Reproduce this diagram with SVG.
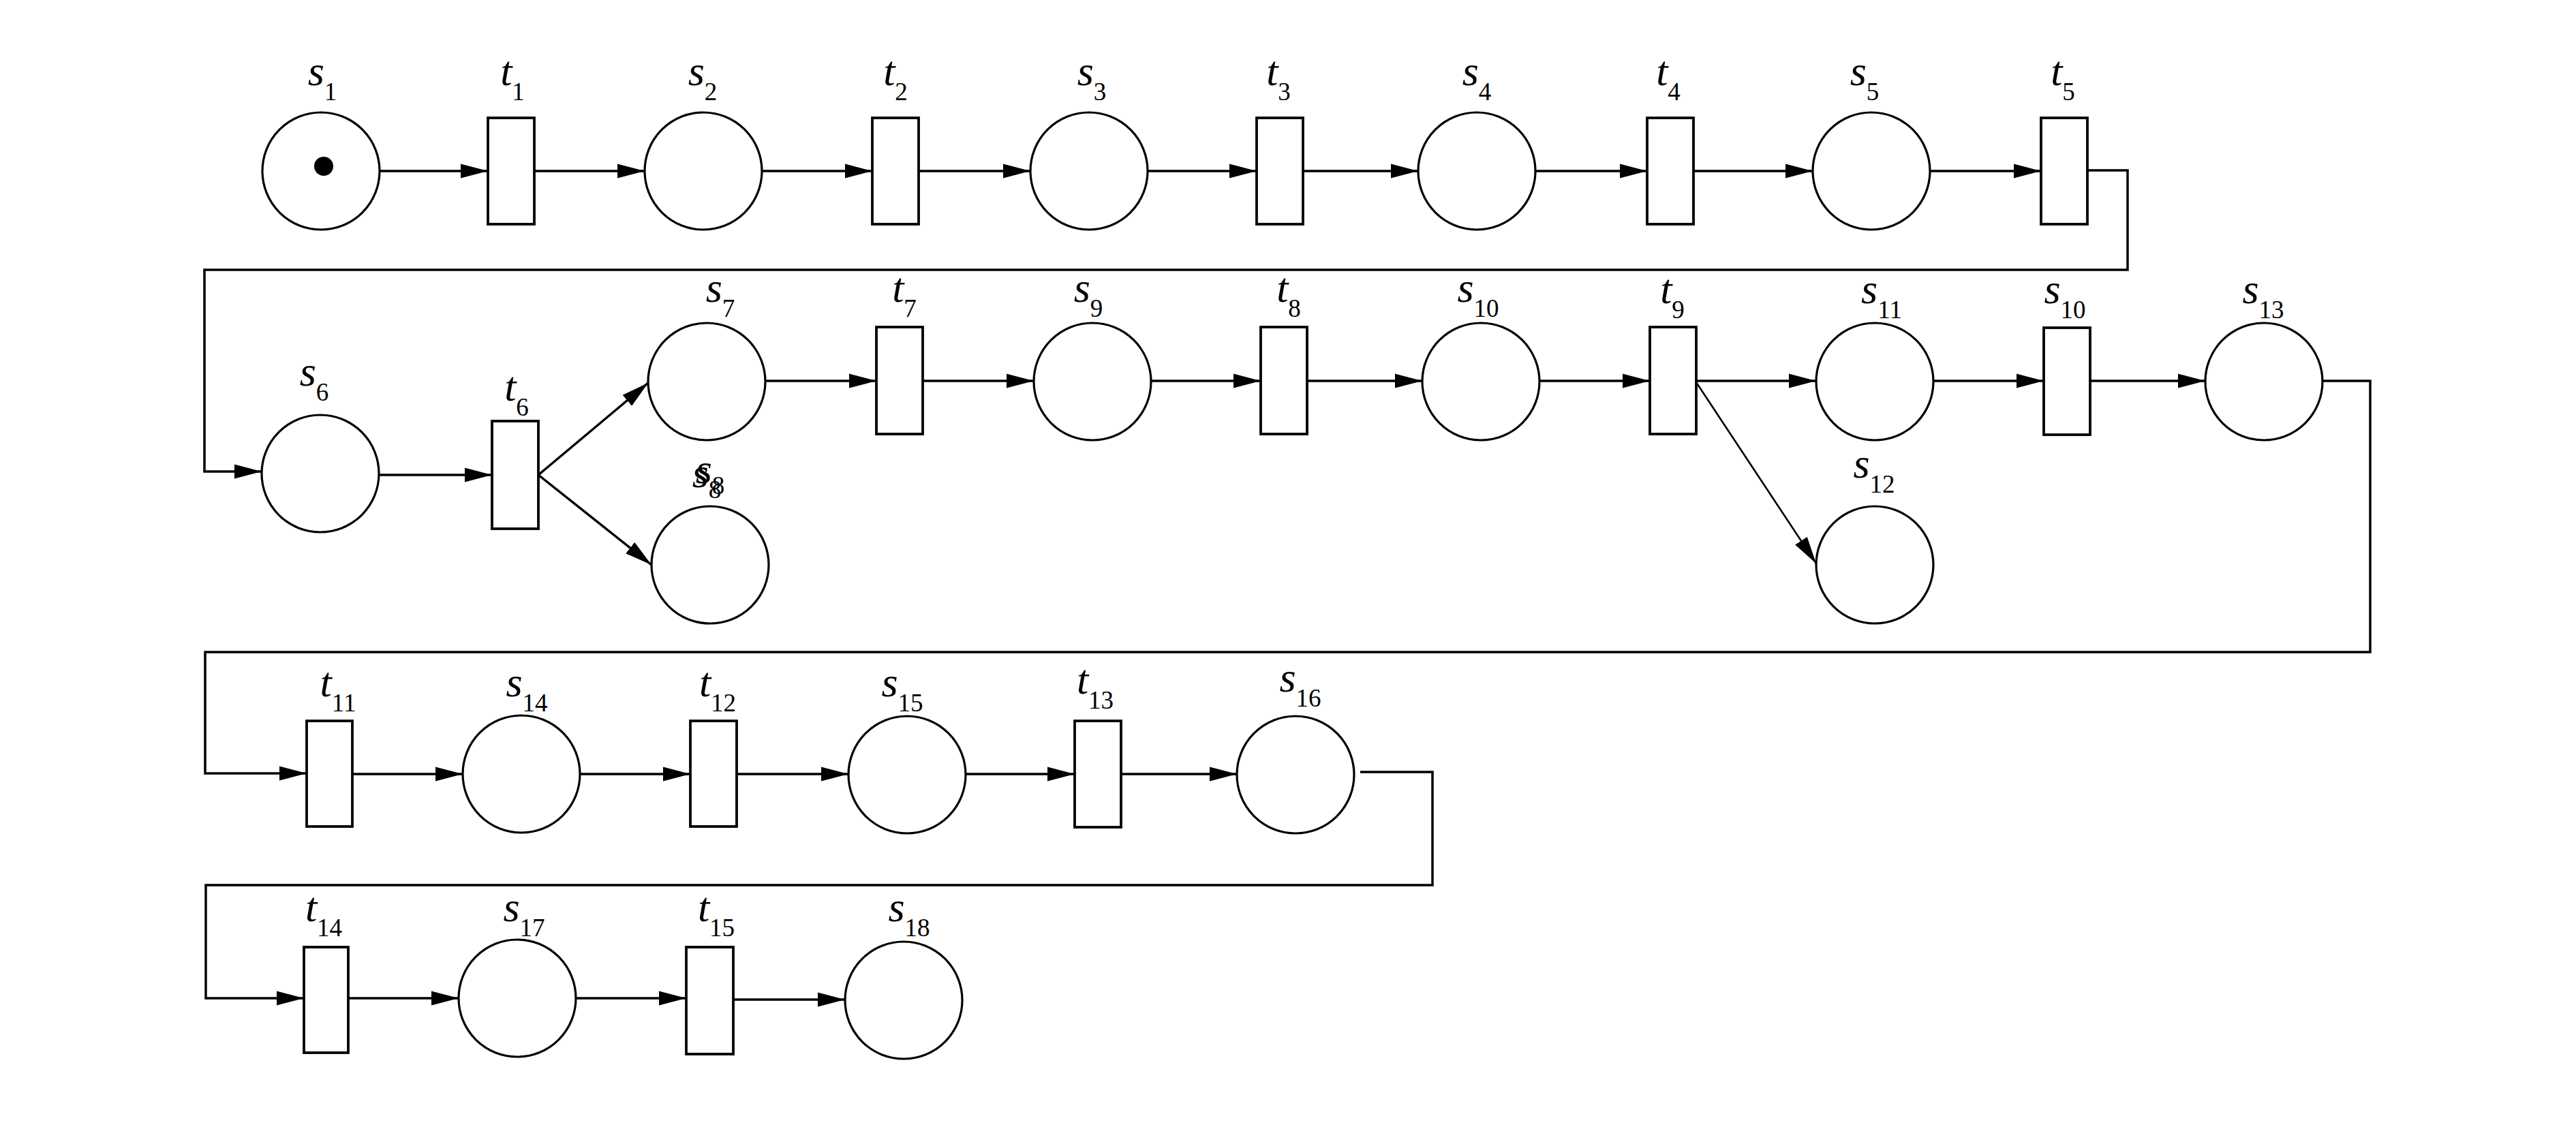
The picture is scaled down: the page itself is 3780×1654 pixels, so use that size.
<svg xmlns="http://www.w3.org/2000/svg" width="3780" height="1654" viewBox="0 0 3780 1654">
<style>
.pl{fill:#fff;stroke:#000;stroke-width:3.2}
.tr{fill:#fff;stroke:#000;stroke-width:3.8}
.c{fill:none;stroke:#000;stroke-width:3.5}
.thin{fill:none;stroke:#000;stroke-width:2.6}
.lb{font-family:"Liberation Serif","Times New Roman",serif;font-size:62px;font-style:italic;text-anchor:middle;fill:#000}
.sb{font-size:37px;font-style:normal}
</style>
<defs>
<marker id="ar" markerUnits="userSpaceOnUse" markerWidth="40" markerHeight="22" viewBox="0 0 38 20" refX="38" refY="10" orient="auto">
<path d="M0,0 L38,10 L0,20 z" fill="#000"/>
</marker>
</defs>
<rect width="3780" height="1654" fill="#fff"/>
<g id="connectors">
<path class="c" marker-end="url(#ar)" d="M557,251 H716"/>
<path class="c" marker-end="url(#ar)" d="M784,251 H946"/>
<path class="c" marker-end="url(#ar)" d="M1118,251 H1280"/>
<path class="c" marker-end="url(#ar)" d="M1348,251 H1512"/>
<path class="c" marker-end="url(#ar)" d="M1684,251 H1844"/>
<path class="c" marker-end="url(#ar)" d="M1912,251 H2081"/>
<path class="c" marker-end="url(#ar)" d="M2253,251 H2417"/>
<path class="c" marker-end="url(#ar)" d="M2485,251 H2660"/>
<path class="c" marker-end="url(#ar)" d="M2832,251 H2995"/>
<path class="c" marker-end="url(#ar)" d="M3063,250 H3122 V396 H300 V692 H384"/>
<path class="c" marker-end="url(#ar)" d="M556,697 H722"/>
<path class="c" marker-end="url(#ar)" d="M790,697 L951,562"/>
<path class="c" marker-end="url(#ar)" d="M790,697 L956,829"/>
<path class="c" marker-end="url(#ar)" d="M1123,559 H1286"/>
<path class="c" marker-end="url(#ar)" d="M1354,559 H1517"/>
<path class="c" marker-end="url(#ar)" d="M1689,559 H1850"/>
<path class="c" marker-end="url(#ar)" d="M1918,559 H2087"/>
<path class="c" marker-end="url(#ar)" d="M2259,559 H2421"/>
<path class="c" marker-end="url(#ar)" d="M2489,559 H2665"/>
<path class="thin" marker-end="url(#ar)" d="M2489,561 L2665,827"/>
<path class="c" marker-end="url(#ar)" d="M2837,559 H2999"/>
<path class="c" marker-end="url(#ar)" d="M3067,559 H3236"/>
<path class="c" marker-end="url(#ar)" d="M3408,559 H3478 V957 H301 V1135 H450"/>
<path class="c" marker-end="url(#ar)" d="M517,1136 H679"/>
<path class="c" marker-end="url(#ar)" d="M851,1136 H1013"/>
<path class="c" marker-end="url(#ar)" d="M1081,1136 H1245"/>
<path class="c" marker-end="url(#ar)" d="M1417,1136 H1577"/>
<path class="c" marker-end="url(#ar)" d="M1645,1136 H1815"/>
<path class="c" marker-end="url(#ar)" d="M1996,1133 H2102 V1299 H302 V1465 H446"/>
<path class="c" marker-end="url(#ar)" d="M511,1465 H673"/>
<path class="c" marker-end="url(#ar)" d="M845,1465 H1007"/>
<path class="c" marker-end="url(#ar)" d="M1076,1467 H1240"/>
</g>
<g id="s1"><circle class="pl" cx="471" cy="251" r="86"/><circle cx="475" cy="244" r="14" fill="#000"/><text class="lb" x="473" y="125">s<tspan class="sb" dy="22">1</tspan></text></g>
<g id="t1"><rect class="tr" x="716" y="173" width="68" height="156"/><text class="lb" x="752" y="125">t<tspan class="sb" dy="22">1</tspan></text></g>
<g id="s2"><circle class="pl" cx="1032" cy="251" r="86"/><text class="lb" x="1031" y="125">s<tspan class="sb" dy="22">2</tspan></text></g>
<g id="t2"><rect class="tr" x="1280" y="173" width="68" height="156"/><text class="lb" x="1314" y="125">t<tspan class="sb" dy="22">2</tspan></text></g>
<g id="s3"><circle class="pl" cx="1598" cy="251" r="86"/><text class="lb" x="1602" y="125">s<tspan class="sb" dy="22">3</tspan></text></g>
<g id="t3"><rect class="tr" x="1844" y="173" width="68" height="156"/><text class="lb" x="1876" y="125">t<tspan class="sb" dy="22">3</tspan></text></g>
<g id="s4"><circle class="pl" cx="2167" cy="251" r="86"/><text class="lb" x="2167" y="125">s<tspan class="sb" dy="22">4</tspan></text></g>
<g id="t4"><rect class="tr" x="2417" y="173" width="68" height="156"/><text class="lb" x="2448" y="125">t<tspan class="sb" dy="22">4</tspan></text></g>
<g id="s5"><circle class="pl" cx="2746" cy="251" r="86"/><text class="lb" x="2736" y="125">s<tspan class="sb" dy="22">5</tspan></text></g>
<g id="t5"><rect class="tr" x="2995" y="173" width="68" height="156"/><text class="lb" x="3027" y="125">t<tspan class="sb" dy="22">5</tspan></text></g>
<g id="s6"><circle class="pl" cx="470" cy="695" r="86"/><text class="lb" x="461" y="566">s<tspan class="sb" dy="22">6</tspan></text></g>
<g id="t6"><rect class="tr" x="722" y="618" width="68" height="158"/><text class="lb" x="758" y="588">t<tspan class="sb" dy="22">6</tspan></text></g>
<g id="s7"><circle class="pl" cx="1037" cy="560" r="86"/><text class="lb" x="1057" y="443">s<tspan class="sb" dy="22">7</tspan></text></g>
<g id="s8"><circle class="pl" cx="1042" cy="829" r="86"/><text class="lb" x="1037" y="715">s<tspan class="sb" dy="16">8</tspan></text><text class="lb" x="1042" y="709">s<tspan class="sb" dy="16">8</tspan></text></g>
<g id="t7"><rect class="tr" x="1286" y="480" width="68" height="157"/><text class="lb" x="1327" y="443">t<tspan class="sb" dy="22">7</tspan></text></g>
<g id="s9"><circle class="pl" cx="1603" cy="560" r="86"/><text class="lb" x="1597" y="443">s<tspan class="sb" dy="22">9</tspan></text></g>
<g id="t8"><rect class="tr" x="1850" y="480" width="68" height="157"/><text class="lb" x="1891" y="443">t<tspan class="sb" dy="22">8</tspan></text></g>
<g id="s10"><circle class="pl" cx="2173" cy="560" r="86"/><text class="lb" x="2169" y="443">s<tspan class="sb" dy="22">10</tspan></text></g>
<g id="t9"><rect class="tr" x="2421" y="480" width="68" height="157"/><text class="lb" x="2454" y="445">t<tspan class="sb" dy="22">9</tspan></text></g>
<g id="s11"><circle class="pl" cx="2751" cy="560" r="86"/><text class="lb" x="2761" y="445">s<tspan class="sb" dy="22">11</tspan></text></g>
<g id="t10"><rect class="tr" x="2999" y="481" width="68" height="157"/><text class="lb" x="3030" y="445">s<tspan class="sb" dy="22">10</tspan></text></g>
<g id="s13"><circle class="pl" cx="3322" cy="560" r="86"/><text class="lb" x="3321" y="445">s<tspan class="sb" dy="22">13</tspan></text></g>
<g id="s12"><circle class="pl" cx="2751" cy="829" r="86"/><text class="lb" x="2750" y="701">s<tspan class="sb" dy="22">12</tspan></text></g>
<g id="t11"><rect class="tr" x="450" y="1058" width="67" height="155"/><text class="lb" x="496" y="1022">t<tspan class="sb" dy="22">11</tspan></text></g>
<g id="s14"><circle class="pl" cx="765" cy="1136" r="86"/><text class="lb" x="773" y="1022">s<tspan class="sb" dy="22">14</tspan></text></g>
<g id="t12"><rect class="tr" x="1013" y="1058" width="68" height="155"/><text class="lb" x="1053" y="1022">t<tspan class="sb" dy="22">12</tspan></text></g>
<g id="s15"><circle class="pl" cx="1331" cy="1137" r="86"/><text class="lb" x="1324" y="1022">s<tspan class="sb" dy="22">15</tspan></text></g>
<g id="t13"><rect class="tr" x="1577" y="1058" width="68" height="156"/><text class="lb" x="1607" y="1018">t<tspan class="sb" dy="22">13</tspan></text></g>
<g id="s16"><circle class="pl" cx="1901" cy="1137" r="86"/><text class="lb" x="1908" y="1015">s<tspan class="sb" dy="22">16</tspan></text></g>
<g id="t14"><rect class="tr" x="446" y="1390" width="65" height="155"/><text class="lb" x="475" y="1352">t<tspan class="sb" dy="22">14</tspan></text></g>
<g id="s17"><circle class="pl" cx="759" cy="1465" r="86"/><text class="lb" x="769" y="1352">s<tspan class="sb" dy="22">17</tspan></text></g>
<g id="t15"><rect class="tr" x="1007" y="1390" width="69" height="157"/><text class="lb" x="1051" y="1352">t<tspan class="sb" dy="22">15</tspan></text></g>
<g id="s18"><circle class="pl" cx="1326" cy="1468" r="86"/><text class="lb" x="1334" y="1352">s<tspan class="sb" dy="22">18</tspan></text></g>
</svg>
